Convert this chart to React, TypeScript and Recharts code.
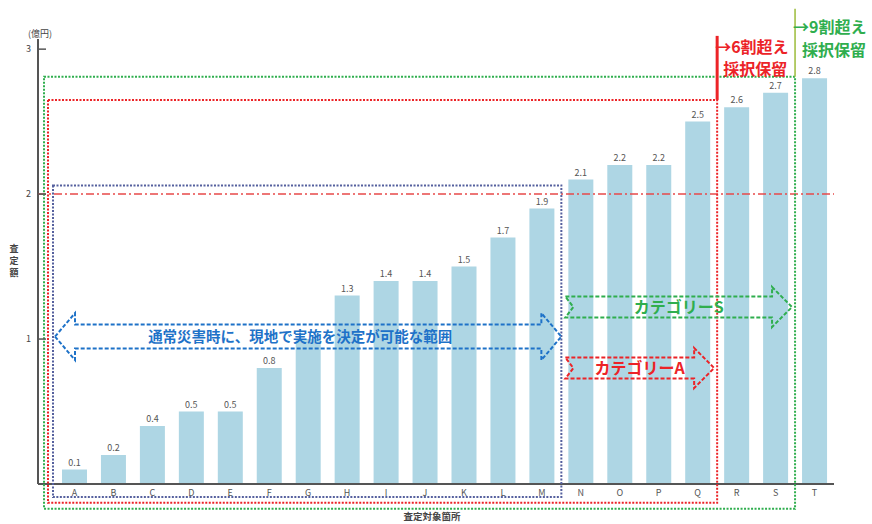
import React from 'react';
import {
  BarChart,
  Bar,
  XAxis,
  YAxis,
  ReferenceArea,
  ReferenceLine,
  LabelList,
  Customized,
} from 'recharts';

const sites = ['A', 'B', 'C', 'D', 'E', 'F', 'G', 'H', 'I', 'J', 'K', 'L', 'M', 'N', 'O', 'P', 'Q', 'R', 'S', 'T'];
const amounts = [0.1, 0.2, 0.4, 0.5, 0.5, 0.8, 1.0, 1.3, 1.4, 1.4, 1.5, 1.7, 1.9, 2.1, 2.2, 2.2, 2.5, 2.6, 2.7, 2.8];
// G's label is hidden behind the arrow in the original
const amountLabels = ['0.1', '0.2', '0.4', '0.5', '0.5', '0.8', '', '1.3', '1.4', '1.4', '1.5', '1.7', '1.9', '2.1', '2.2', '2.2', '2.5', '2.6', '2.7', '2.8'];
const yTicks = [1, 2, 3];

const data = sites.map((site, i) => ({ site, amount: amounts[i], label: amountLabels[i] }));

const JP = '"Noto Sans CJK JP", "Noto Sans", sans-serif';
const GREEN = '#2fae4e';
const RED = '#ec2327';
const NAVY = '#55609e';
const BLUE = '#1e72c8';

type Box = { x?: number; y?: number; width?: number; height?: number };

const DottedFrame = ({ x = 0, y = 0, width = 0, height = 0, color, extendLeft }: Box & { color: string; extendLeft: number }) => (
  <rect
    x={x - extendLeft}
    y={y}
    width={width + extendLeft}
    height={height}
    fill="none"
    stroke={color}
    strokeWidth={2}
    strokeDasharray="2 1.5"
  />
);

const RedFrame = (p: Box) => {
  const { x = 0, y = 0, width = 0 } = p;
  const right = x + width;
  return (
    <g>
      <DottedFrame {...p} color={RED} extendLeft={7} />
      <line x1={right} x2={right} y1={y - 64} y2={y} stroke={RED} strokeWidth={3} />
      <text x={right - 2} y={y - 47} fill={RED} fontSize={16} fontWeight={700} fontFamily={JP}>→6割超え</text>
      <text x={right + 6} y={y - 25} fill={RED} fontSize={16} fontWeight={700} fontFamily={JP}>採択保留</text>
    </g>
  );
};

const GreenFrame = (p: Box) => {
  const { x = 0, y = 0, width = 0 } = p;
  const right = x + width;
  return (
    <g>
      <DottedFrame {...p} color={GREEN} extendLeft={11} />
      <line x1={right} x2={right} y1={y - 68} y2={y} stroke="#9cbc3a" strokeWidth={1.5} />
      <text x={right - 2} y={y - 44} fill={GREEN} fontSize={16} fontWeight={700} fontFamily={JP}>→9割超え</text>
      <text x={right + 7} y={y - 21} fill={GREEN} fontSize={16} fontWeight={700} fontFamily={JP}>採択保留</text>
    </g>
  );
};

const NavyFrame = (p: Box) => <DottedFrame {...p} color={NAVY} extendLeft={2} />;

const DoubleArrow = ({ x = 0, y = 0, width = 0, height = 0 }: Box) => {
  const mid = y + height / 2;
  const head = 20;
  const half = 12;
  const pts = [
    [x, mid], [x + head, y], [x + head, mid - half], [x + width - head, mid - half],
    [x + width - head, y], [x + width, mid], [x + width - head, y + height],
    [x + width - head, mid + half], [x + head, mid + half], [x + head, y + height],
  ];
  return (
    <g>
      <polygon points={pts.map((q) => q.join(',')).join(' ')} fill="none" stroke={BLUE} strokeWidth={2} strokeDasharray="4 2" />
      <text x={x + width / 2 - 8} y={mid + 5} textAnchor="middle" fill={BLUE} fontSize={14.5} fontWeight={700} fontFamily={JP}>
        通常災害時に、現地で実施を決定が可能な範囲
      </text>
    </g>
  );
};

const makeNotchedArrow = (color: string, label: string, textShift: number) => (p: Box) => {
  const { x = 0, y = 0, width = 0, height = 0 } = p;
  const mid = y + height / 2;
  const inset = 9.5;
  const left = x + 4;
  const headStart = x + width - 23;
  const tip = x + width - 3;
  const pts = [
    [left, y + inset], [headStart, y + inset], [headStart, y], [tip, mid], [headStart, y + height],
    [headStart, y + height - inset], [left, y + height - inset], [left + 8, mid],
  ];
  return (
    <g>
      <polygon points={pts.map((q) => q.join(',')).join(' ')} fill="none" stroke={color} strokeWidth={2} strokeDasharray="4 2" />
      <text x={(left + headStart) / 2 + textShift} y={mid + 6} textAnchor="middle" fill={color} fontSize={16} fontWeight={700} fontFamily={JP}>
        {label}
      </text>
    </g>
  );
};

const ArrowS = makeNotchedArrow(GREEN, 'カテゴリーS', 10);
const ArrowA = makeNotchedArrow(RED, 'カテゴリーA', 10);

const YTick = ({ x, y, payload }: { x: number; y: number; payload: { value: number } }) => (
  <g>
    <text x={x} y={y + 3} textAnchor="end" fontSize={9} fill="#444" fontFamily={JP}>{payload.value}</text>
    <line x1={x + 7} x2={x + 15} y1={y} y2={y} stroke="#555" strokeWidth={1.5} />
  </g>
);

const Titles = () => (
  <g fontFamily={JP} fill="#444">
    <text x={40} y={37} textAnchor="middle" fontSize={9}>(億円)</text>
    <text x={14} y={252} textAnchor="middle" fontSize={9} fontWeight={700}>査</text>
    <text x={14} y={264} textAnchor="middle" fontSize={9} fontWeight={700}>定</text>
    <text x={14} y={276} textAnchor="middle" fontSize={9} fontWeight={700}>額</text>
    <text x={432} y={520} textAnchor="middle" fontSize={9.5} fontWeight={700}>査定対象箇所</text>
  </g>
);

export default function App() {
  return (
    <div style={{ position: 'absolute', left: 0, top: 0, background: '#fff' }}>
      <BarChart width={872} height={524} data={data} margin={{ top: 39, right: 38, left: 0, bottom: 0 }} barSize={25}>
        <XAxis
          dataKey="site"
          height={40}
          padding={{ left: 17, right: 0 }}
          axisLine={{ stroke: '#555', strokeWidth: 2 }}
          tickLine={false}
          tick={{ fontSize: 9, fill: '#555', fontFamily: JP }}
          tickMargin={0}
        />
        <YAxis
          width={38}
          domain={[0, 3.07]}
          ticks={yTicks}
          axisLine={{ stroke: '#555', strokeWidth: 2 }}
          tickLine={false}
          tickSize={0}
          tickMargin={7}
          tick={YTick}
        />
        <Bar dataKey="amount" fill="#aed6e4" isAnimationActive={false}>
          <LabelList dataKey="label" position="top" offset={4} fontSize={9} fill="#555" fontFamily={JP} />
        </Bar>
        <ReferenceLine y={2} stroke="#e84a4a" strokeWidth={1.5} strokeDasharray="8 3 2 3" zIndex={650} />
        <ReferenceArea x1="A" x2="S" y1={-0.17} y2={2.81} ifOverflow="visible" shape={GreenFrame} zIndex={650} />
        <ReferenceArea x1="A" x2="Q" y1={-0.13} y2={2.65} ifOverflow="visible" shape={RedFrame} zIndex={650} />
        <ReferenceArea x1="A" x2="M" y1={-0.09} y2={2.06} ifOverflow="visible" shape={NavyFrame} zIndex={650} />
        <ReferenceArea x1="A" x2="M" y1={0.855} y2={1.179} ifOverflow="visible" shape={DoubleArrow} zIndex={650} />
        <ReferenceArea x1="N" x2="S" y1={1.083} y2={1.359} ifOverflow="visible" shape={ArrowS} zIndex={650} />
        <ReferenceArea x1="N" x2="Q" y1={0.662} y2={0.938} ifOverflow="visible" shape={ArrowA} zIndex={650} />
        <Customized component={Titles} />
      </BarChart>
    </div>
  );
}
